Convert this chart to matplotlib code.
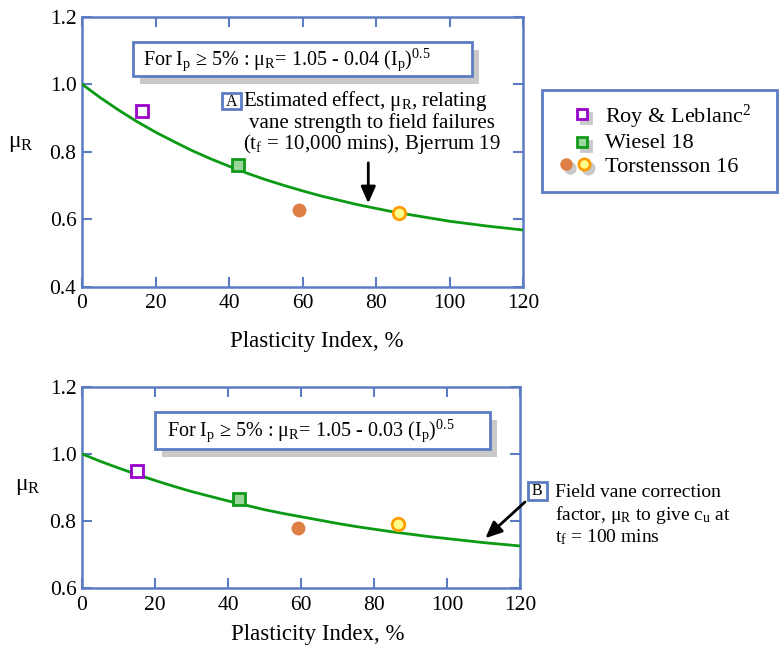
import matplotlib
matplotlib.use("Agg")
import matplotlib.pyplot as plt
from matplotlib.patches import Rectangle

plt.rcParams['font.family'] = ['Liberation Serif', 'DejaVu Serif']
plt.rcParams['mathtext.fontset'] = 'custom'
plt.rcParams['mathtext.rm'] = 'Liberation Serif'
plt.rcParams['mathtext.it'] = 'Liberation Serif:italic'
plt.rcParams['mathtext.bf'] = 'Liberation Serif:bold'

# ---- data -------------------------------------------------------------
ip_curve = [0, 5, 10, 15, 20, 25, 30, 35, 40, 45, 50, 55, 60,
            65, 70, 75, 80, 85, 90, 95, 100, 105, 110, 115, 120]
mu_bjerrum = [1.000, 0.960, 0.923, 0.889, 0.858, 0.830, 0.803, 0.779, 0.757,
              0.736, 0.717, 0.700, 0.684, 0.669, 0.656, 0.643, 0.632, 0.621,
              0.612, 0.603, 0.594, 0.587, 0.580, 0.574, 0.568]
mu_field = [1.000, 0.978, 0.958, 0.939, 0.921, 0.904, 0.888, 0.874, 0.860,
            0.847, 0.834, 0.823, 0.813, 0.803, 0.793, 0.784, 0.776, 0.768,
            0.761, 0.754, 0.748, 0.742, 0.736, 0.731, 0.726]

# measured points: (Ip, mu_R) for each panel
roy_top, roy_bot = (16.3, 0.920), (15.0, 0.950)
wiesel_top, wiesel_bot = (42.5, 0.760), (42.9, 0.866)
torst_a_top, torst_a_bot = (59.0, 0.628), (59.2, 0.779)
torst_b_top, torst_b_bot = (86.2, 0.619), (86.5, 0.791)

x_ticks = [0, 20, 40, 60, 80, 100, 120]
y_ticks_top = [0.4, 0.6, 0.8, 1.0, 1.2]
y_ticks_bot = [0.6, 0.8, 1.0, 1.2]

legend_labels = ["Roy & Leblanc$^\\mathrm{2}$", "Wiesel 18", "Torstensson 16"]

# ---- styles -----------------------------------------------------------
BLUE = '#5b7cc2'
GREEN = '#0a9a14'
SHADOW = '#c9c9c9'
roy_style = dict(marker='s', ms=8, mew=2, mfc='white', mec='#9a00c9', ls='none')
wiesel_style = dict(marker='s', ms=8, mew=2, mfc='#9bd69b', mec='#129a1a', ls='none')
torst_a_style = dict(marker='o', ms=10, mew=0, mfc='#de7f45', mec='#de7f45', ls='none')
torst_b_style = dict(marker='o', ms=9, mew=2, mfc='#ffff8a', mec='#ff9c00', ls='none')

W, H = 779, 646
fig = plt.figure(figsize=(W / 100, H / 100), dpi=100)


def rect(x0, y0, x1, y1):
    return [x0 / W, 1 - y1 / H, (x1 - x0) / W, (y1 - y0) / H]


ax1 = fig.add_axes(rect(82, 16.7, 523, 286.7))
ax2 = fig.add_axes(rect(82, 386.7, 520, 588.3))
ov = fig.add_axes([0, 0, 1, 1])
ov.set_xlim(0, W)
ov.set_ylim(H, 0)
ov.axis('off')
ov.patch.set_alpha(0)
ov.set_zorder(10)


def style(ax, yticks):
    ax.set_xlim(0, 120)
    ax.set_ylim(yticks[0], yticks[-1])
    ax.set_xticks(x_ticks)
    ax.set_xticklabels([str(v) for v in x_ticks])
    ax.set_yticks(yticks)
    ax.set_yticklabels([f"{v:.1f}" for v in yticks])
    for s in ax.spines.values():
        s.set_color(BLUE)
        s.set_linewidth(1.8)
    ax.tick_params(direction='in', length=7, width=1.5, color=BLUE,
                   top=True, right=True, labelsize=15.5)
    ax.tick_params(axis='x', pad=5.5)
    ax.tick_params(axis='y', pad=4)


def draw_panel(ax, curve, roy, wiesel, ta, tb, yticks):
    style(ax, yticks)
    ax.plot(ip_curve, curve, color=GREEN, lw=2, zorder=3, solid_capstyle='butt')
    ax.plot([roy[0]], [roy[1]], zorder=4, **roy_style)
    ax.plot([wiesel[0]], [wiesel[1]], zorder=4, **wiesel_style)
    ax.plot([ta[0]], [ta[1]], zorder=4, **torst_a_style)
    ax.plot([tb[0]], [tb[1]], zorder=4, **torst_b_style)


draw_panel(ax1, mu_bjerrum, roy_top, wiesel_top, torst_a_top, torst_b_top, y_ticks_top)
draw_panel(ax2, mu_field, roy_bot, wiesel_bot, torst_a_bot, torst_b_bot, y_ticks_bot)

# axis labels
ov.text(316.7, 346.5, "Plasticity Index, %", fontsize=16.5, ha='center', va='baseline')
ov.text(318, 640, "Plasticity Index, %", fontsize=16.5, ha='center', va='baseline')
ov.text(8, 147, "μ$_\\mathrm{R}$", fontsize=17, ha='left', va='baseline')
ov.text(15, 490, "μ$_\\mathrm{R}$", fontsize=17, ha='left', va='baseline')


def shadow_box(x0, y0, x1, y1, dx=7, dy=8):
    ov.add_patch(Rectangle((x0 + dx, y0 + dy), x1 - x0, y1 - y0, fc=SHADOW, ec='none'))
    ov.add_patch(Rectangle((x0, y0), x1 - x0, y1 - y0, fc='white', ec=BLUE, lw=2))


# equation boxes
shadow_box(133.3, 41.7, 472.3, 75.5)
ov.text(143.3, 65, "For I$_\\mathrm{p}$ ≥ 5% : μ$_\\mathrm{R}$= 1.05 - 0.04 (I$_\\mathrm{p}$)$^\\mathrm{0.5}$",
        fontsize=14.5, ha='left', va='baseline')
shadow_box(155.4, 412.3, 490, 449)
ov.text(166.6, 436, "For I$_\\mathrm{p}$ ≥ 5% : μ$_\\mathrm{R}$= 1.05 - 0.03 (I$_\\mathrm{p}$)$^\\mathrm{0.5}$",
        fontsize=14.5, ha='left', va='baseline')


def letter_box(x0, y0, x1, y1, letter):
    ov.add_patch(Rectangle((x0, y0), x1 - x0, y1 - y0, fc='white', ec=BLUE, lw=2))
    ov.text((x0 + x1) / 2, (y0 + y1) / 2 + 0.5, letter, fontsize=11.5,
            ha='center', va='center')


# annotation A
letter_box(221.7, 93.3, 240.7, 109, "A")
ov.text(243.3, 106, "Estimated effect, μ$_\\mathrm{R}$, relating", fontsize=15,
        ha='left', va='baseline')
ov.text(249.3, 127.7, "vane strength to field failures", fontsize=15,
        ha='left', va='baseline')
ov.text(243.3, 149.3, "(t$_\\mathrm{f}$ = 10,000 mins), Bjerrum 19", fontsize=15,
        ha='left', va='baseline')
ax1.annotate('', xy=(77.9, 0.647), xytext=(77.9, 0.767),
             arrowprops=dict(arrowstyle='-|>,head_length=0.5,head_width=0.22',
                             mutation_scale=20, lw=2, color='black',
                             shrinkA=0, shrinkB=0))

# annotation B
letter_box(528, 481.7, 546.7, 500, "B")
ov.text(555, 496.7, "Field vane correction", fontsize=14, ha='left', va='baseline')
ov.text(555, 520.5, "factor, μ$_\\mathrm{R}$ to give c$_\\mathrm{u}$ at", fontsize=14,
        ha='left', va='baseline')
ov.text(555, 542, "t$_\\mathrm{f}$ = 100 mins", fontsize=14, ha='left', va='baseline')
ax2.annotate('', xy=(110.5, 0.749), xytext=(525, 502), textcoords=ov.transData,
             annotation_clip=False,
             arrowprops=dict(arrowstyle='-|>,head_length=0.5,head_width=0.22',
                             mutation_scale=20, lw=2, color='black',
                             shrinkA=0, shrinkB=0))

# legend
ov.add_patch(Rectangle((541.7, 90), 777 - 541.7, 191.7 - 90, fc='white', ec=BLUE, lw=2))
leg_items = [
    [((581.7, 114.3), roy_style)],
    [((581.7, 141.7), wiesel_style)],
    [((565.7, 164.3), torst_a_style), ((584, 164.3), torst_b_style)],
]
leg_base = [122.9, 147.7, 172.4]
for items, lbl, yb in zip(leg_items, legend_labels, leg_base):
    for (mx, my), st in items:
        sh = dict(st)
        sh.update(mfc=SHADOW, mec=SHADOW)
        sh['ms'] = st['ms'] * 0.9
        ov.plot([mx + 4], [my + 4], **sh)
    for (mx, my), st in items:
        s2 = dict(st)
        s2['ms'] = st['ms'] * 0.9
        ov.plot([mx], [my], **s2)
    ov.text(605, yb, lbl, fontsize=16, ha='left', va='baseline')

fig.savefig("out.png", dpi=100)
